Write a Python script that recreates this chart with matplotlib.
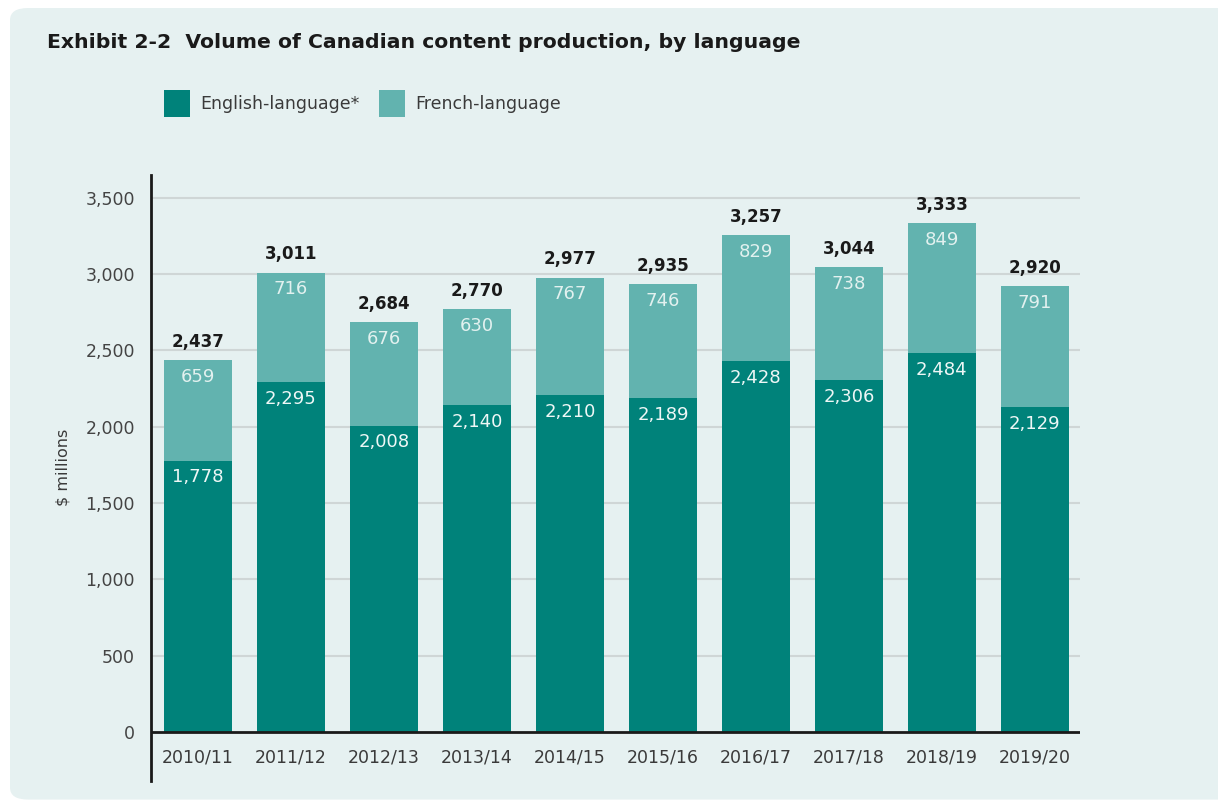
import matplotlib
matplotlib.use("Agg")
import matplotlib.pyplot as plt
from matplotlib.patches import FancyBboxPatch, Rectangle

# Volume of Canadian content production ($ millions)
years = ["2010/11", "2011/12", "2012/13", "2013/14", "2014/15",
         "2015/16", "2016/17", "2017/18", "2018/19", "2019/20"]
english = [1778, 2295, 2008, 2140, 2210, 2189, 2428, 2306, 2484, 2129]
french = [659, 716, 676, 630, 767, 746, 829, 738, 849, 791]
totals = [2437, 3011, 2684, 2770, 2977, 2935, 3257, 3044, 3333, 2920]
y_ticks = [0, 500, 1000, 1500, 2000, 2500, 3000, 3500]

ENG_COLOR = "#00827a"
FRE_COLOR = "#62b3af"
BG_COLOR = "#e6f1f1"
NARROW = ["DejaVu Sans Condensed", "DejaVu Sans"]
BODY = ["DejaVu Sans"]

fig = plt.figure(figsize=(12.18, 8.02), dpi=100)
fig.patch.set_facecolor("white")

# rounded background panel
panel = FancyBboxPatch((10 / 1218, 0.003), 1.2, 1 - 8 / 802 - 0.003,
                       boxstyle="round,pad=0,rounding_size=0.015",
                       transform=fig.transFigure, facecolor=BG_COLOR,
                       edgecolor="none", zorder=-10)
fig.patches.append(panel)

fig.text(47 / 1218, 1 - 42 / 802, "Exhibit 2-2  Volume of Canadian content production, by language",
         fontsize=14.7, fontweight="bold", color="#1a1a1a", va="center", ha="left",
         family=NARROW)

# legend squares
for x0, label, col in [(164, "English-language*", ENG_COLOR), (379, "French-language", FRE_COLOR)]:
    fig.patches.append(Rectangle((x0 / 1218, 1 - 117 / 802), 26 / 1218, 27 / 802,
                                 transform=fig.transFigure, facecolor=col, edgecolor="none"))
    fig.text((x0 + 36) / 1218, 1 - 104 / 802, label, fontsize=12.5, color="#3a3a3a",
             va="center", ha="left", family=NARROW)

ax = fig.add_axes([151 / 1218, 1 - 781 / 802, (1080 - 151) / 1218, (781 - 175) / 802])
ax.set_facecolor("none")
ax.set_zorder(1)

x = list(range(len(years)))
ax.bar(x, english, width=0.73, color=ENG_COLOR, zorder=3)
ax.bar(x, french, width=0.73, bottom=english, color=FRE_COLOR, zorder=3)

ax.set_xlim(-0.505, 9.485)
ax.set_ylim(-321, 3650)

for i in x:
    ax.text(i, english[i] - 110, f"{english[i]:,}", ha="center", va="center",
            fontsize=13, color="#eef7f6", family=BODY, zorder=4)
    ax.text(i, totals[i] - 110, f"{french[i]:,}", ha="center", va="center",
            fontsize=13, color="#e2f1ef", family=BODY, zorder=4)
    ax.text(i, totals[i] + 120, f"{totals[i]:,}", ha="center", va="center",
            fontsize=12, fontweight="bold", color="#1a1a1a", family=NARROW, zorder=4)
    ax.text(i, -165, years[i], ha="center", va="center", fontsize=12.5,
            color="#3a3a3a", family=BODY)

for v in y_ticks[1:]:
    ax.axhline(v, color="#cfd6d6", lw=1.5, zorder=1)
ax.axhline(0, color="#1a1a1a", lw=2, zorder=5)

ax.set_yticks(y_ticks)
ax.set_yticklabels([f"{v:,}" for v in y_ticks], family=BODY, fontsize=12.5, color="#444444")
ax.tick_params(axis="y", length=0, pad=11.5)
ax.set_xticks([])

for s in ["top", "right", "bottom"]:
    ax.spines[s].set_visible(False)
ax.spines["left"].set_linewidth(2)
ax.spines["left"].set_color("#1a1a1a")

ax.set_ylabel("$ millions", fontsize=11.5, color="#3a3a3a", family=BODY)
ax.yaxis.set_label_coords(-80 / 929, (781 - 467) / 606)

fig.savefig("out.png", dpi=100)
